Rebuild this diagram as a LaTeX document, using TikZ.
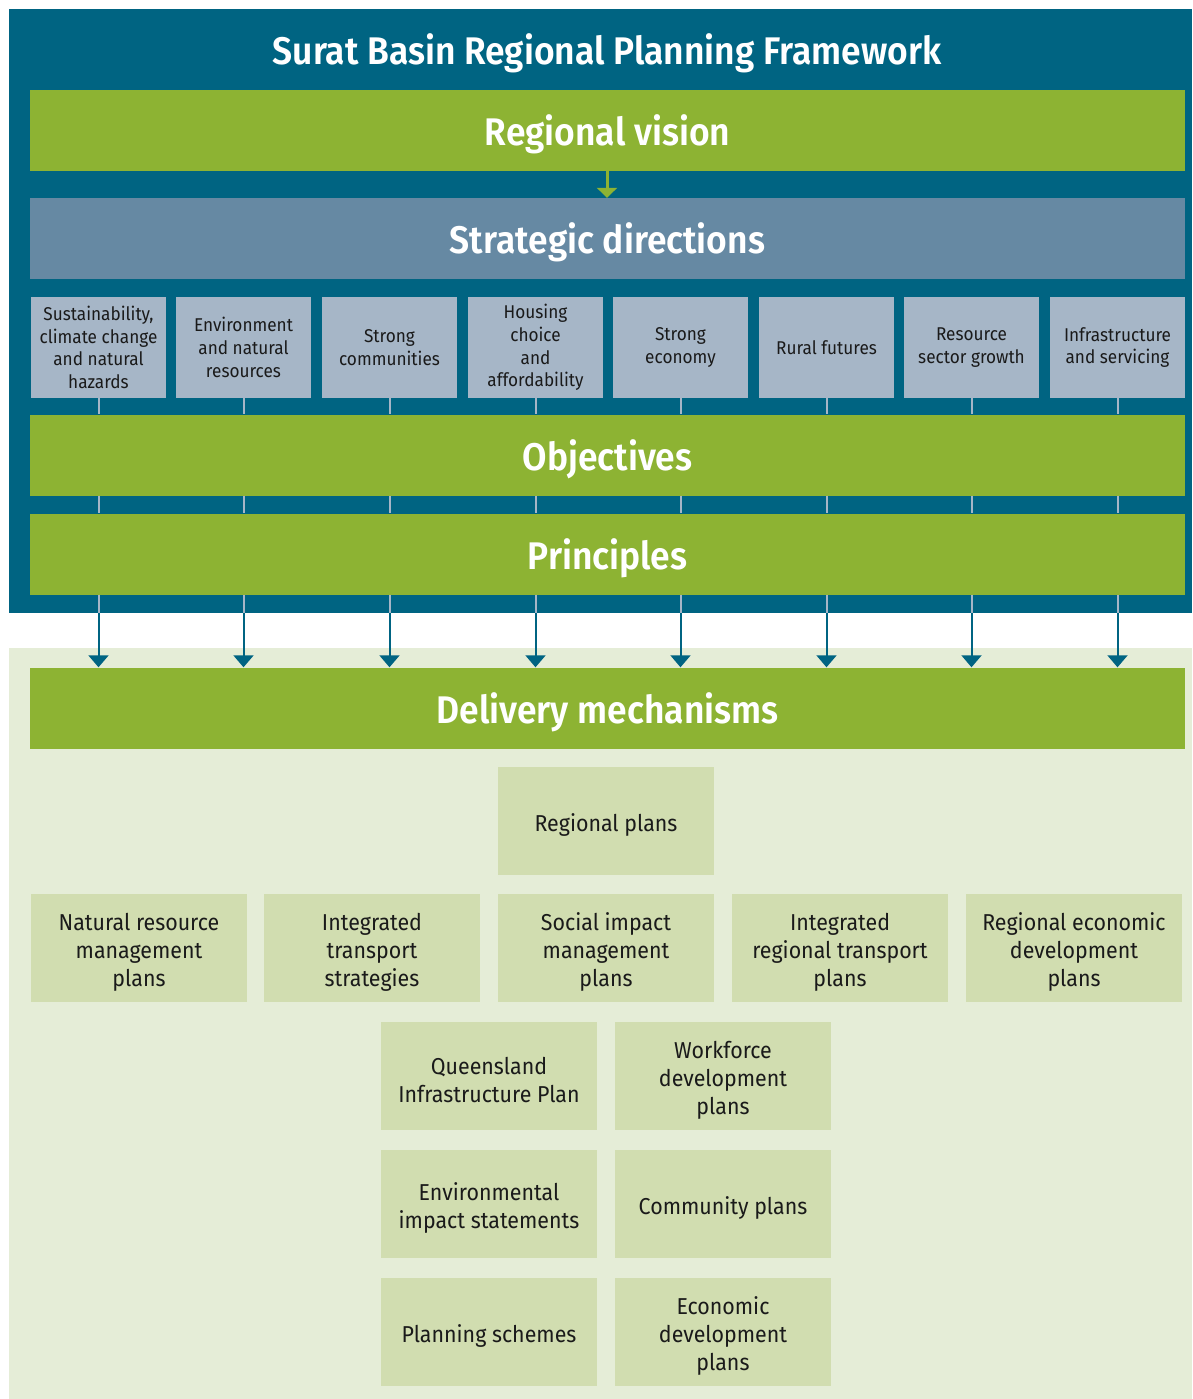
\documentclass[tikz,border=0pt]{standalone}
\usepackage{fontspec}
\setmainfont{Fira Sans}[FakeStretch=0.93]
\newfontfamily\headfont{Fira Sans}[FakeStretch=0.92, UprightFont=* SemiBold]
\usetikzlibrary{arrows.meta,calc}
\definecolor{darkteal}{HTML}{006482}
\definecolor{leaf}{HTML}{8DB333}
\definecolor{steel}{HTML}{6689A3}
\definecolor{lightsteel}{HTML}{A6B6C7}
\definecolor{paleleaf}{HTML}{E5EDD7}
\definecolor{boxleaf}{HTML}{D1DDB0}
\definecolor{ink}{HTML}{1A1A1A}
\newcommand\mechnode[3]{%
  \node[mechbox] (#1) at (#2) {};
  \node[mechtext] (#1t) at ($(#1.center)+(0,4)$) {#3};}
\begin{document}
\begin{tikzpicture}[x=1pt,y=-1pt,
  band/.style={fill=#1, minimum width=1155pt, minimum height=81pt, inner sep=0pt, text=white,
    text height=30.5pt, text depth=0pt,
    font=\headfont\fontsize{38.5}{44}\selectfont},
  dirbox/.style={fill=lightsteel, minimum width=135pt, minimum height=101pt, inner sep=0pt,
    text=ink, align=center, font=\fontsize{18.5}{22.7}\selectfont},
  mechbox/.style={fill=boxleaf, minimum width=216pt, minimum height=108pt, inner sep=0pt},
  mechtext/.style={inner sep=0pt, text=ink, align=center, font=\fontsize{23}{28}\selectfont},
  thinlink/.style={draw=lightsteel, line width=2pt},
  deliver/.style={draw=darkteal, line width=2pt, -{Triangle[width=20pt,length=12pt]}}
]
\useasboundingbox (0,0) rectangle (1192,1399);
% backgrounds
\fill[darkteal] (9,9) rectangle (1192,613);
\fill[paleleaf] (9,648) rectangle (1192,1399);

\node[text=white, inner sep=0pt, text height=28.5pt, text depth=0pt,
  font=\headfont\fontsize{38.5}{44}\selectfont] (title) at (607,50.5) {Surat Basin Regional Planning Framework};
\node[band=leaf] (vision) at (607.5,130.5) {Regional vision};
\node[band=steel] (strat) at (607.5,238.5) {Strategic directions};
\node[band=leaf] (obj) at (607.5,455) {Objectives};
\node[band=leaf] (prin) at (607.5,554) {Principles};
\node[band=leaf] (deliv) at (607.5,708) {Delivery mechanisms};

\draw[draw=leaf, line width=3pt, -{Triangle[width=20pt,length=10pt]}] (vision.south -| 607,0) -- (strat.north -| 607,0);

% strategic direction boxes
\node[dirbox] (d1) at (98.5,347.5) {Sustainability,\\climate change\\and natural\\hazards};
\node[dirbox] (d2) at (243.5,347.5) {Environment\\and natural\\resources};
\node[dirbox] (d3) at (389.5,347.5) {Strong\\communities};
\node[dirbox] (d4) at (535.5,347.5) {Housing\\choice\\and\\affordability};
\node[dirbox] (d5) at (680.5,347.5) {Strong\\economy};
\node[dirbox] (d6) at (826.5,347.5) {Rural futures};
\node[dirbox] (d7) at (971.5,347.5) {Resource\\sector growth};
\node[dirbox] (d8) at (1117.5,347.5) {Infrastructure\\and servicing};

\foreach \i in {1,...,8}{
  \coordinate (fb\i) at (d\i.south |- 0,613);
  \draw[thinlink] (d\i.south) -- (d\i.south |- obj.north);
  \draw[thinlink] (d\i.south |- obj.south) -- (d\i.south |- prin.north);
  \draw[thinlink] (d\i.south |- prin.south) -- (fb\i);
  \draw[deliver] (fb\i) -- (d\i.south |- deliv.north);
}

% delivery mechanism boxes
\mechnode{m1}{606,821}{Regional plans}
\mechnode{m2}{139,948}{Natural resource\\management\\plans}
\mechnode{m3}{372,948}{Integrated\\transport\\strategies}
\mechnode{m4}{606,948}{Social impact\\management\\plans}
\mechnode{m5}{840,948}{Integrated\\regional transport\\plans}
\mechnode{m6}{1074,948}{Regional economic\\development\\plans}
\mechnode{m7}{489,1076}{Queensland\\Infrastructure Plan}
\mechnode{m8}{723,1076}{Workforce\\development\\plans}
\mechnode{m9}{489,1204}{Environmental\\impact statements}
\mechnode{m10}{723,1204}{Community plans}
\mechnode{m11}{489,1332}{Planning schemes}
\mechnode{m12}{723,1332}{Economic\\development\\plans}
\end{tikzpicture}
\end{document}
